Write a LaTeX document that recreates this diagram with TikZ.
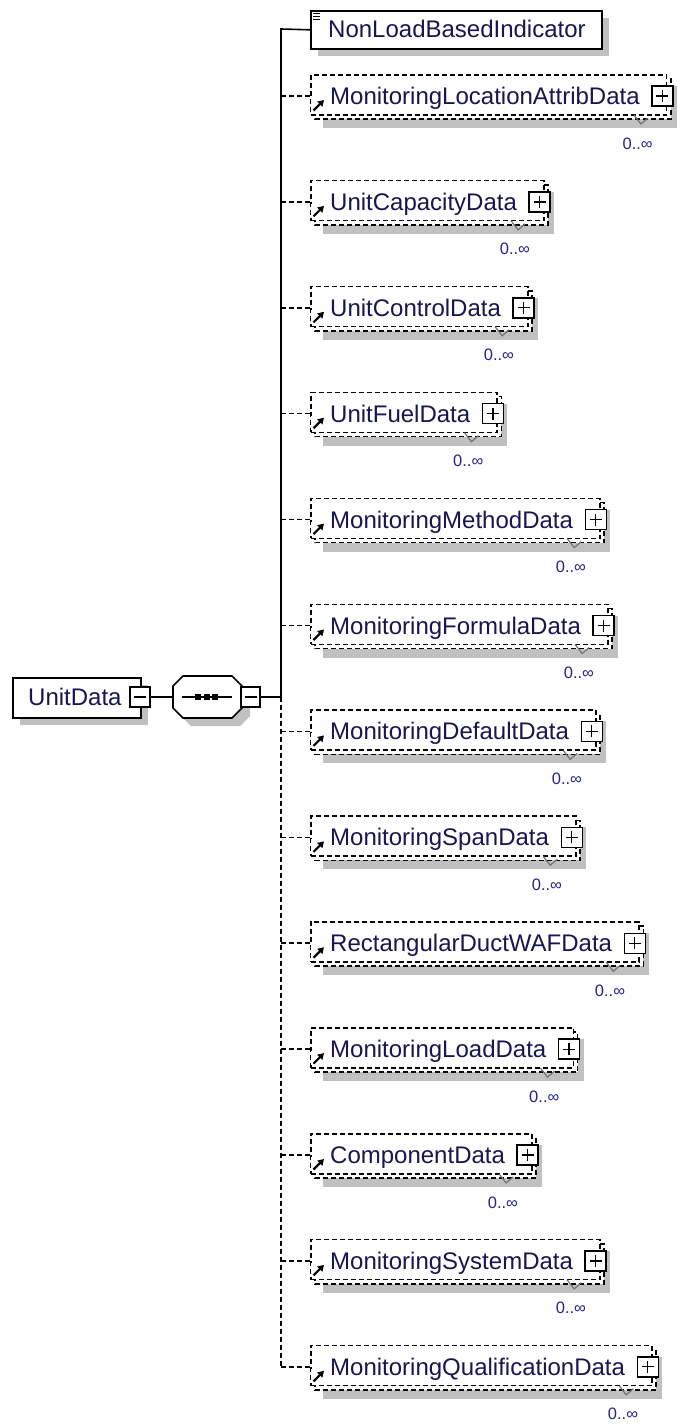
\documentclass[tikz,border=0pt]{standalone}
\usepackage{fontspec}
\setmainfont{Liberation Sans}
\usetikzlibrary{arrows.meta}
\newdimen\tmpdx
\newcommand\namefont{\fontsize{24}{28}\selectfont}
\definecolor{nav}{RGB}{22,22,80}
\definecolor{lbl}{RGB}{35,35,140}
\definecolor{shd}{RGB}{192,192,192}
\pgfdeclarelayer{bg}
\pgfsetlayers{bg,main}
\tikzset{
  nm/.style={inner sep=0pt, text=nav, font=\namefont},
  card/.style={inner sep=0pt, text=lbl, font=\fontsize{16.5}{18}\selectfont},
  dsh/.style={line width=1.5pt, dash pattern=on 5pt off 3pt},
  sol/.style={line width=1.6pt},
  box/.style={draw, sol, fill=white, inner sep=0pt},
  dbox/.style={draw, dsh, fill=white, inner sep=0pt},
  pbox/.style={draw, line width=1.4pt, fill=white, inner sep=0pt, minimum width=21, minimum height=20},
}
\begin{document}
\begin{tikzpicture}[x=1pt,y=-1pt]
\useasboundingbox (0,0) rectangle (681,1424);
% ---------- UnitData ----------
\fill[shd] (20,685) rectangle (148,725);
\node[box, anchor=north west, minimum width=128, minimum height=40] (ud) at (12,677) {};
\node[nm, anchor=base west] (udt) at (28,705.5) {UnitData};
\node[pbox, minimum width=20] (udm) at (140,697) {};
\draw[line width=1.2pt] ([xshift=-6pt]udm.center) -- ([xshift=6pt]udm.center);
% ---------- compositor ----------
\begin{scope}[shift={(8,8)}]
\fill[shd] (183,676) -- (232,676) -- (242,686) -- (242,708) -- (232,718) -- (183,718) -- (173,708) -- (173,686) -- cycle;
\end{scope}
\draw[sol, fill=white] (183,676) -- (232,676) -- (242,686) -- (242,708) -- (232,718) -- (183,718) -- (173,708) -- (173,686) -- cycle;
\node[inner sep=0pt, minimum width=69, minimum height=42] (cmp) at (207.5,697) {};
\draw[line width=1.3pt] (182,697) -- (232,697);
\fill (195,694) rectangle (201,700);
\fill (203.5,694) rectangle (209.5,700);
\fill (212,694) rectangle (218,700);
\node[pbox, minimum width=19] (cmm) at (250.5,697) {};
\draw[line width=1.2pt] ([xshift=-6pt]cmm.center) -- ([xshift=6pt]cmm.center);
\draw[sol] (udm.east) -- (cmp.west);
\coordinate (jc) at (281,697);
\draw[sol] (cmm.east) -- (jc);
% ---------- NonLoadBasedIndicator ----------
\node[nm, anchor=base west] (nlbt) at (328,37.5) {NonLoadBasedIndicator};
\pgfextractx{\tmpdx}{\pgfpointanchor{nlbt}{east}}
\pgfmathsetmacro\Rn{\tmpdx+15}
\begin{pgfonlayer}{bg}
\fill[shd] (318,18) rectangle (\Rn+8,56);
\node[box, anchor=north west, minimum width={\Rn-310}, minimum height=38] (nlb) at (310,10) {};
\end{pgfonlayer}
\draw[line width=1pt] (313,13) -- (320,13) (313,16) -- (320,16) (313,19) -- (320,19);
\coordinate (jt) at (281,29);
\draw[sol] (nlb.west) -- (jt) -- (jc);
\coordinate (jb) at (281,1366.8);
\draw[dsh] (jc) -- (jb);
% ---------- repeated children ----------
\foreach \i/\nm in {0/MonitoringLocationAttribData, 1/UnitCapacityData, 2/UnitControlData,
  3/UnitFuelData, 4/MonitoringMethodData, 5/MonitoringFormulaData, 6/MonitoringDefaultData,
  7/MonitoringSpanData, 8/RectangularDuctWAFData, 9/MonitoringLoadData, 10/ComponentData,
  11/MonitoringSystemData, 12/MonitoringQualificationData}{
  \pgfmathsetmacro\cy{96+105.9*\i}
  \node[nm, anchor=base west] (t\i) at (330,\cy+8.5) {\nm};
  \pgfextractx{\tmpdx}{\pgfpointanchor{t\i}{east}}
  \pgfmathsetmacro\R{\tmpdx+26}
  \begin{pgfonlayer}{bg}
  \fill[shd] (323,\cy-10) rectangle (\R+11,\cy+32);
  \draw[dsh, fill=white] (315,\cy-17) rectangle (\R+5,\cy+23);
  \node[dbox, anchor=north west, minimum width={\R-310}, minimum height=40] (b\i) at (310,\cy-22) {};
  \end{pgfonlayer}
  \node[pbox] (p\i) at (\R-3.5,\cy) {};
  \draw[line width=1.2pt] ([xshift=-6pt]p\i.center) -- ([xshift=6pt]p\i.center)
        ([yshift=-6pt]p\i.center) -- ([yshift=6pt]p\i.center);
  \fill[white] (311,\cy+2) rectangle (325,\cy+16);
  \draw[line width=2.2pt, -{Triangle[length=6pt,width=7pt]}] (313.5,\cy+14.5) -- (324,\cy+4);
  \draw[line width=1.2pt, black!55] (\R-32,\cy+19) -- (\R-25,\cy+28) -- (\R-18,\cy+22);
  \node[card, anchor=base east] (c\i) at (\R-13,\cy+53) {0..∞};
  \coordinate (j\i) at (281,\cy);
  \draw[dsh] (j\i) -- (j\i -| b\i.west);
}
\end{tikzpicture}
\end{document}
